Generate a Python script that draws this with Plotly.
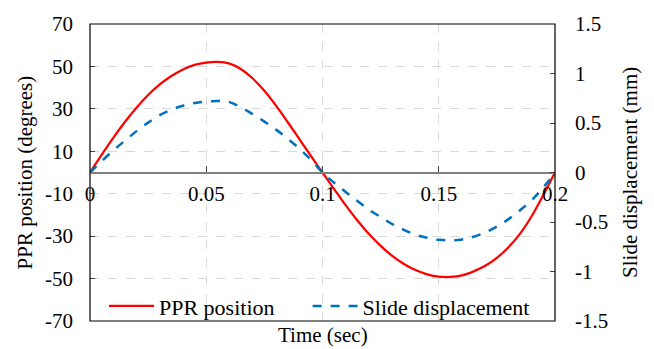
import plotly.graph_objects as go

time_s = [0.000, 0.005, 0.010, 0.015, 0.020, 0.025, 0.030, 0.035, 0.040, 0.045,
          0.050, 0.055, 0.060, 0.065, 0.070, 0.075, 0.080, 0.085, 0.090, 0.095,
          0.100, 0.105, 0.110, 0.115, 0.120, 0.125, 0.130, 0.135, 0.140, 0.145,
          0.150, 0.155, 0.160, 0.165, 0.170, 0.175, 0.180, 0.185, 0.190, 0.195, 0.200]

ppr_position_deg = [0.0, 8.3, 16.3, 23.8, 30.5, 36.5, 41.5, 45.5, 48.6, 50.7,
                    51.8, 52.1, 51.3, 48.7, 44.3, 38.5, 31.5, 23.8, 15.8, 7.8,
                    0.0, -7.8, -15.5, -22.6, -29.0, -34.6, -39.3, -43.1, -46.0, -48.0,
                    -49.1, -49.2, -48.5, -46.6, -44.0, -40.2, -35.2, -28.8, -20.5, -10.5, 0.0]

slide_disp_mm = [0.000, 0.114, 0.223, 0.321, 0.418, 0.504, 0.579, 0.634, 0.675, 0.701,
                 0.716, 0.722, 0.711, 0.656, 0.589, 0.514, 0.433, 0.343, 0.242, 0.129,
                 0.000, -0.103, -0.197, -0.289, -0.375, -0.450, -0.521, -0.579, -0.628, -0.660,
                 -0.679, -0.686, -0.677, -0.649, -0.606, -0.546, -0.471, -0.381, -0.279, -0.150, 0.000]

x_tickvals = [0, 0.05, 0.1, 0.15, 0.2]
x_ticktext = ["0", "0.05", "0.1", "0.15", "0.2"]
y_tickvals = [-70, -50, -30, -10, 10, 30, 50, 70]
y_ticktext = ["-70", "-50", "-30", "-10", "10", "30", "50", "70"]
y2_tickvals = [-1.5, -1, -0.5, 0, 0.5, 1, 1.5]
y2_ticktext = ["-1.5", "-1", "-0.5", "0", "0.5", "1", "1.5"]

FONT = "Times New Roman, Liberation Serif, Tinos, Nimbus Roman, DejaVu Serif, serif"
FS = 21

fig = go.Figure()
fig.add_trace(go.Scatter(x=time_s, y=ppr_position_deg, mode="lines", name="PPR position",
                         line=dict(color="#FF0000", width=2.25, shape="spline"),
                         yaxis="y", legend="legend"))
fig.add_trace(go.Scatter(x=time_s, y=slide_disp_mm, mode="lines", name="Slide displacement",
                         line=dict(color="#0070C0", width=2.5, dash="dash", shape="spline"),
                         yaxis="y2", legend="legend2"))

leg_common = dict(orientation="h", y=0.05, xanchor="left", yanchor="middle",
                  bgcolor="rgba(0,0,0,0)", font=dict(family=FONT, size=FS + 1), itemwidth=45)

fig.update_layout(
    width=654, height=349,
    margin=dict(l=90, r=99, t=16, b=28),
    paper_bgcolor="white", plot_bgcolor="white",
    font=dict(family=FONT, size=FS, color="black"),
    xaxis=dict(range=[0, 0.2], anchor="free", position=0.5,
               tickvals=x_tickvals, ticktext=x_ticktext,
               tickfont=dict(family=FONT, size=FS),
               showline=True, linecolor="#808080", linewidth=1.5,
               ticks="inside", ticklen=6, tickcolor="#404040",
               showgrid=True, gridcolor="#d9d9d9", griddash="dash", gridwidth=1,
               zeroline=False, ticklabelstandoff=3),
    yaxis=dict(range=[-70, 70], tickvals=y_tickvals, ticktext=y_ticktext,
               tickfont=dict(family=FONT, size=FS),
               showline=False, ticks="inside", ticklen=5, tickcolor="#404040",
               showgrid=True, gridcolor="#d9d9d9", griddash="dash", gridwidth=1,
               zeroline=False, ticklabelstandoff=16),
    yaxis2=dict(range=[-1.5, 1.5], tickvals=y2_tickvals, ticktext=y2_ticktext,
                tickfont=dict(family=FONT, size=FS),
                overlaying="y", side="right", showline=False,
                ticks="inside", ticklen=5, tickcolor="#404040",
                showgrid=False, zeroline=False, ticklabelstandoff=19),
    legend=dict(x=0.03, **leg_common),
    legend2=dict(x=0.468, **leg_common),
    showlegend=True,
    shapes=[dict(type="rect", xref="paper", yref="paper", x0=0, x1=1, y0=0, y1=1,
                 line=dict(color="black", width=1.2), fillcolor="rgba(0,0,0,0)", layer="above")],
    annotations=[
        dict(text="Time (sec)", xref="paper", yref="paper", x=0.5, y=-0.046,
             xanchor="center", yanchor="middle", showarrow=False, font=dict(family=FONT, size=FS)),
        dict(text="PPR position (degrees)", xref="paper", yref="paper", x=-0.14, y=0.5,
             xanchor="center", yanchor="middle", textangle=-90, showarrow=False, font=dict(family=FONT, size=FS)),
        dict(text="Slide displacement (mm)", xref="paper", yref="paper", x=1.16, y=0.5,
             xanchor="center", yanchor="middle", textangle=-90, showarrow=False, font=dict(family=FONT, size=FS)),
    ],
)

fig.write_html("out.html")
